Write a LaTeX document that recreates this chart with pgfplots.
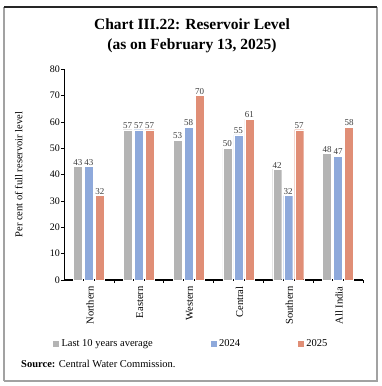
\documentclass[border=0pt]{standalone}
\usepackage{fontspec}
\setmainfont{Liberation Serif}
\usepackage{pgfplots}
\pgfplotsset{compat=1.18}
\definecolor{cgray}{RGB}{180,180,180}
\definecolor{cblue}{RGB}{142,169,219}
\definecolor{cred}{RGB}{224,142,118}
\definecolor{lblc}{RGB}{60,60,60}
\begin{document}
\begin{tikzpicture}[x=1pt,y=1pt]
\useasboundingbox (0,0) rectangle (381,-386);
\draw[line width=2pt, color=cgray!90!black] (4,-381) -- (4,-7);
\draw[line width=2pt, color=cgray!90!black] (377,-7) -- (377,-381) -- (4,-381);
\draw[line width=1.2pt, color=black!85] (4,-7) -- (377,-7);
\node[font=\bfseries\fontsize{15.5}{20.5}\selectfont, align=center] at (192pt,-36pt) {Chart III.22: Reservoir Level\\(as on February 13, 2025)};
\begin{axis}[
  at={(64pt,-280pt)}, anchor=south west,
  scale only axis, width=299pt, height=211pt,
  xmin=-0.5, xmax=5.5, ymin=0, ymax=80,
  axis x line*=bottom, axis y line*=left,
  x axis line style={line width=1.6pt, -},
  y axis line style={line width=0.6pt, -},
  ybar=2pt, bar width=9pt,
  xtick={0,...,5},
  xticklabels={Northern,Eastern,Western,Central,Southern,All India},
  x tick label style={rotate=90, anchor=east, font=\fontsize{10.5}{12}\selectfont, yshift=-1pt},
  major x tick style={draw=none},
  minor xtick={0.5,1.5,2.5,3.5,4.5,5.5},
  minor x tick style={line width=0.6pt, black},
  minor tick length=3pt,
  tick align=outside,
  ytick={0,10,...,80},
  y tick label style={font=\fontsize{10}{12}\selectfont, inner sep=1pt},
  major y tick style={line width=0.5pt, black},
  major tick length=3pt,
  /pgf/number format/assume math mode=true,
  ylabel={Per cent of full reservoir level},
  ylabel style={font=\fontsize{10.5}{12}\selectfont, at={(axis description cs:0,0.5)}, anchor=south, yshift=38pt},
  nodes near coords,
  nodes near coords style={font=\fontsize{9}{10}\selectfont, color=lblc, anchor=south, inner sep=1pt},
  legend columns=3,
  legend style={draw=none, fill=none, at={(axis description cs:-0.05,-0.26)}, anchor=north west,
    font=\fontsize{10.5}{12}\selectfont, /tikz/every even column/.append style={column sep=55pt}},
  legend image code/.code={\fill[#1] (0pt,-3.5pt) rectangle (7pt,3.5pt);},
  clip=false,
]
\addplot[fill=cgray, draw=white, line width=0.3pt] coordinates {(0,43) (1,57) (2,53) (3,50) (4,42) (5,48)};
\addplot[fill=cblue, draw=white, line width=0.3pt] coordinates {(0,43) (1,57) (2,58) (3,55) (4,32) (5,47)};
\addplot[fill=cred, draw=white, line width=0.3pt] coordinates {(0,32) (1,57) (2,70) (3,61) (4,57) (5,58)};
\legend{Last 10 years average,2024,2025}
\end{axis}
\node[anchor=west, font=\fontsize{10.5}{12}\selectfont, inner sep=0pt] at (21pt,-364pt) {\textbf{Source:} Central Water Commission.};
\end{tikzpicture}
\end{document}
